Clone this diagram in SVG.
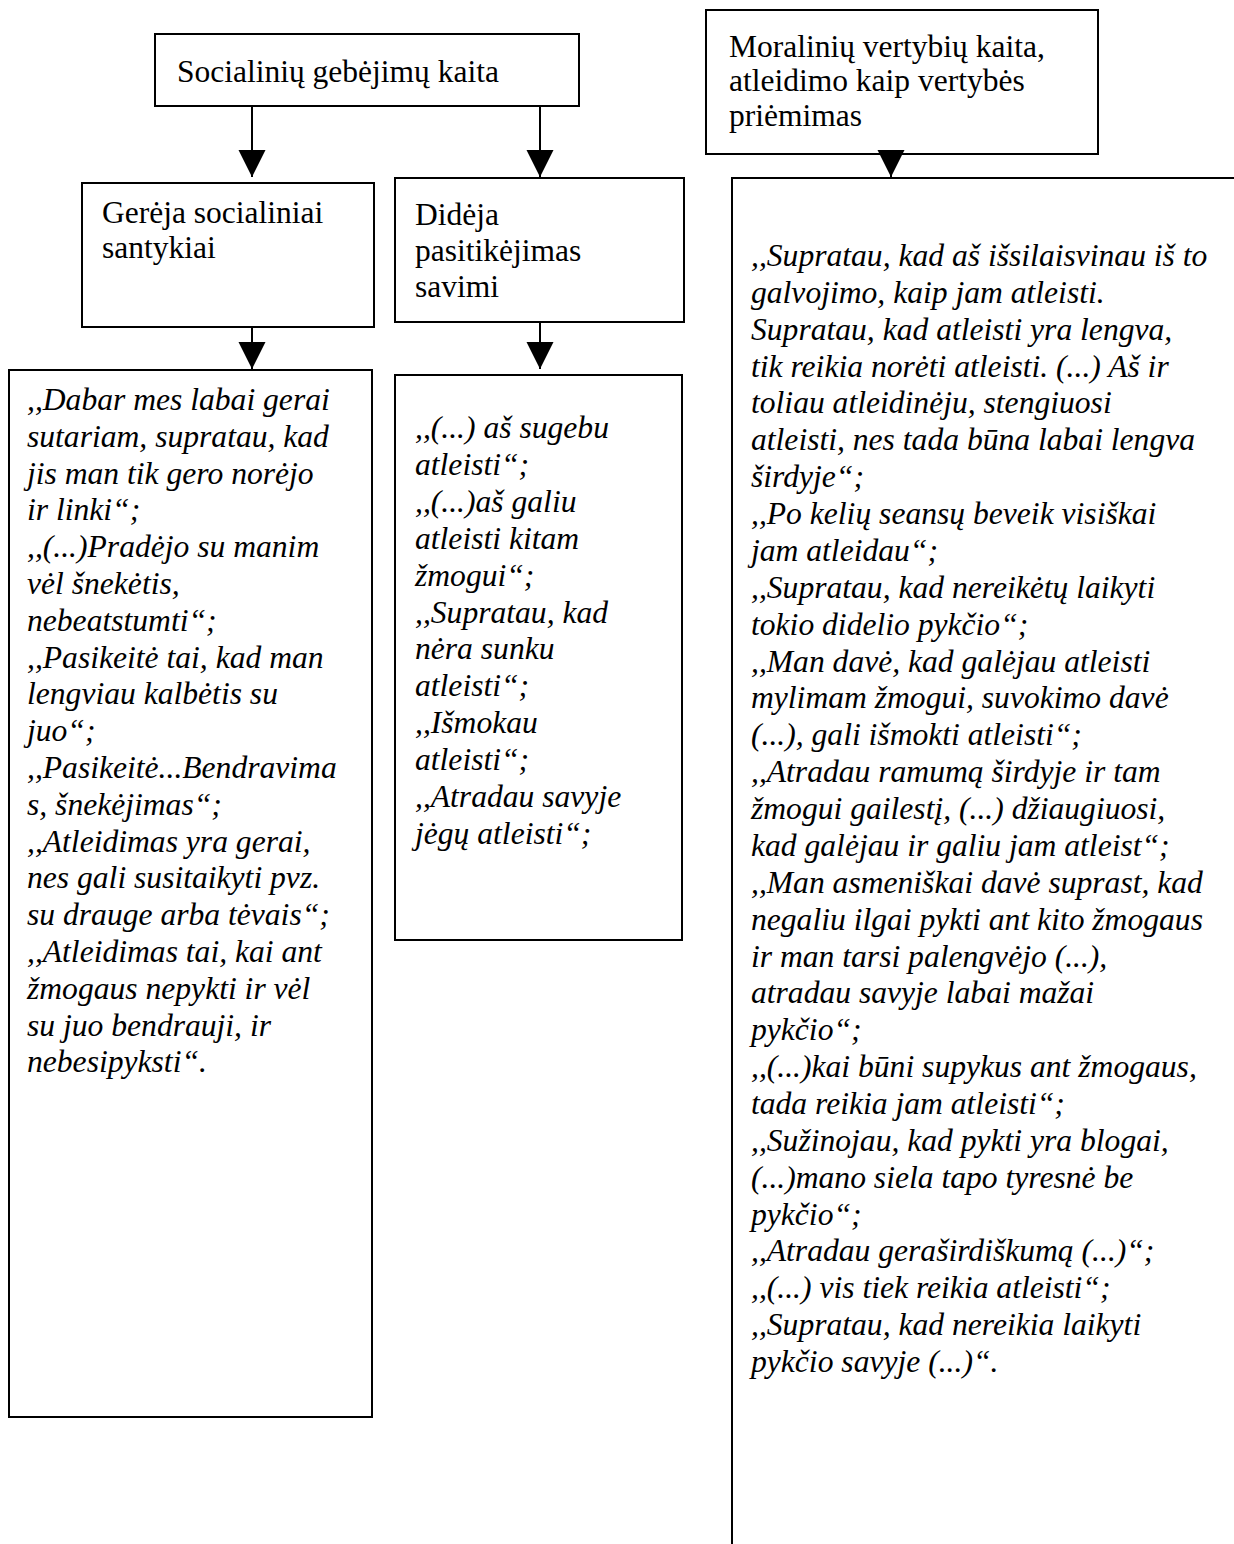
<svg xmlns="http://www.w3.org/2000/svg" width="1234" height="1544" viewBox="0 0 1234 1544">
<style>
.box{fill:#fff;stroke:#000;stroke-width:2}
.t{font-family:"Liberation Serif","Times New Roman",serif;font-size:31.5px;fill:#000}
.q{font-family:"Liberation Serif","Times New Roman",serif;font-size:31.6px;font-style:italic;fill:#000}
.c{stroke:#000;stroke-width:2;fill:none}
</style>
<defs>
<marker id="ah" markerUnits="userSpaceOnUse" markerWidth="28" markerHeight="28" refX="27" refY="13.5" orient="auto">
<path d="M0,0 L27,13.5 L0,27 Z" fill="#000"/>
</marker>
</defs>
<rect width="1234" height="1544" fill="#fff"/>

<g id="n-social">
<rect class="box" x="155" y="34" width="424" height="72"/>
<text class="t" x="177" y="82">Socialinių gebėjimų kaita</text>
</g>

<g id="n-moral">
<rect class="box" x="706" y="10" width="392" height="144"/>
<text class="t" x="729" y="57">Moralinių vertybių kaita,</text>
<text class="t" x="729" y="91">atleidimo kaip vertybės</text>
<text class="t" x="729" y="126">priėmimas</text>
</g>

<g id="n-gereja">
<rect class="box" x="82" y="183" width="292" height="144"/>
<text class="t" x="102" y="223">Gerėja socialiniai</text>
<text class="t" x="102" y="258">santykiai</text>
</g>

<g id="n-dideja">
<rect class="box" x="395" y="178" width="289" height="144"/>
<text class="t" x="415" y="225">Didėja</text>
<text class="t" x="415" y="261">pasitikėjimas</text>
<text class="t" x="415" y="297">savimi</text>
</g>

<g id="n-quotes-left">
<rect class="box" x="9" y="370" width="363" height="1047"/>
<text class="q" x="27" y="410">
<tspan x="27" dy="0">,,Dabar mes labai gerai</tspan>
<tspan x="27" dy="36.8">sutariam, supratau, kad</tspan>
<tspan x="27" dy="36.8">jis man tik gero norėjo</tspan>
<tspan x="27" dy="36.8">ir linki“;</tspan>
<tspan x="27" dy="36.8">,,(...)Pradėjo su manim</tspan>
<tspan x="27" dy="36.8">vėl šnekėtis,</tspan>
<tspan x="27" dy="36.8">nebeatstumti“;</tspan>
<tspan x="27" dy="36.8">,,Pasikeitė tai, kad man</tspan>
<tspan x="27" dy="36.8">lengviau kalbėtis su</tspan>
<tspan x="27" dy="36.8">juo“;</tspan>
<tspan x="27" dy="36.8">,,Pasikeitė...Bendravima</tspan>
<tspan x="27" dy="36.8">s, šnekėjimas“;</tspan>
<tspan x="27" dy="36.8">,,Atleidimas yra gerai,</tspan>
<tspan x="27" dy="36.8">nes gali susitaikyti pvz.</tspan>
<tspan x="27" dy="36.8">su drauge arba tėvais“;</tspan>
<tspan x="27" dy="36.8">,,Atleidimas tai, kai ant</tspan>
<tspan x="27" dy="36.8">žmogaus nepykti ir vėl</tspan>
<tspan x="27" dy="36.8">su juo bendrauji, ir</tspan>
<tspan x="27" dy="36.8">nebesipyksti“.</tspan>
</text>
</g>

<g id="n-quotes-mid">
<rect class="box" x="395" y="375" width="287" height="565"/>
<text class="q" x="415" y="438">
<tspan x="415" dy="0">,,(...) aš sugebu</tspan>
<tspan x="415" dy="36.9">atleisti“;</tspan>
<tspan x="415" dy="36.9">,,(...)aš galiu</tspan>
<tspan x="415" dy="36.9">atleisti kitam</tspan>
<tspan x="415" dy="36.9">žmogui“;</tspan>
<tspan x="415" dy="36.9">,,Supratau, kad</tspan>
<tspan x="415" dy="36.9">nėra sunku</tspan>
<tspan x="415" dy="36.9">atleisti“;</tspan>
<tspan x="415" dy="36.9">,,Išmokau</tspan>
<tspan x="415" dy="36.9">atleisti“;</tspan>
<tspan x="415" dy="36.9">,,Atradau savyje</tspan>
<tspan x="415" dy="36.9">jėgų atleisti“;</tspan>
</text>
</g>

<g id="n-quotes-right">
<path class="c" d="M732,1544 V178 H1236"/>
<text class="q" x="751" y="266">
<tspan x="751" dy="0">,,Supratau, kad aš išsilaisvinau iš to</tspan>
<tspan x="751" dy="36.87">galvojimo, kaip jam atleisti.</tspan>
<tspan x="751" dy="36.87">Supratau, kad atleisti yra lengva,</tspan>
<tspan x="751" dy="36.87">tik reikia norėti atleisti. (...) Aš ir</tspan>
<tspan x="751" dy="36.87">toliau atleidinėju, stengiuosi</tspan>
<tspan x="751" dy="36.87">atleisti, nes tada būna labai lengva</tspan>
<tspan x="751" dy="36.87">širdyje“;</tspan>
<tspan x="751" dy="36.87">,,Po kelių seansų beveik visiškai</tspan>
<tspan x="751" dy="36.87">jam atleidau“;</tspan>
<tspan x="751" dy="36.87">,,Supratau, kad nereikėtų laikyti</tspan>
<tspan x="751" dy="36.87">tokio didelio pykčio“;</tspan>
<tspan x="751" dy="36.87">,,Man davė, kad galėjau atleisti</tspan>
<tspan x="751" dy="36.87">mylimam žmogui, suvokimo davė</tspan>
<tspan x="751" dy="36.87">(...), gali išmokti atleisti“;</tspan>
<tspan x="751" dy="36.87">,,Atradau ramumą širdyje ir tam</tspan>
<tspan x="751" dy="36.87">žmogui gailestį, (...) džiaugiuosi,</tspan>
<tspan x="751" dy="36.87">kad galėjau ir galiu jam atleist“;</tspan>
<tspan x="751" dy="36.87">,,Man asmeniškai davė suprast, kad</tspan>
<tspan x="751" dy="36.87">negaliu ilgai pykti ant kito žmogaus</tspan>
<tspan x="751" dy="36.87">ir man tarsi palengvėjo (...),</tspan>
<tspan x="751" dy="36.87">atradau savyje labai mažai</tspan>
<tspan x="751" dy="36.87">pykčio“;</tspan>
<tspan x="751" dy="36.87">,,(...)kai būni supykus ant žmogaus,</tspan>
<tspan x="751" dy="36.87">tada reikia jam atleisti“;</tspan>
<tspan x="751" dy="36.87">,,Sužinojau, kad pykti yra blogai,</tspan>
<tspan x="751" dy="36.87">(...)mano siela tapo tyresnė be</tspan>
<tspan x="751" dy="36.87">pykčio“;</tspan>
<tspan x="751" dy="36.87">,,Atradau geraširdiškumą (...)“;</tspan>
<tspan x="751" dy="36.87">,,(...) vis tiek reikia atleisti“;</tspan>
<tspan x="751" dy="36.87">,,Supratau, kad nereikia laikyti</tspan>
<tspan x="751" dy="36.87">pykčio savyje (...)“.</tspan>
</text>
</g>

<g id="connectors">
<line class="c" x1="252" y1="106" x2="252" y2="177" marker-end="url(#ah)"/>
<line class="c" x1="540" y1="106" x2="540" y2="177" marker-end="url(#ah)"/>
<line class="c" x1="252" y1="327" x2="252" y2="369" marker-end="url(#ah)"/>
<line class="c" x1="540" y1="322" x2="540" y2="369" marker-end="url(#ah)"/>
<line class="c" x1="891" y1="154" x2="891" y2="177" marker-end="url(#ah)"/>
</g>
</svg>
